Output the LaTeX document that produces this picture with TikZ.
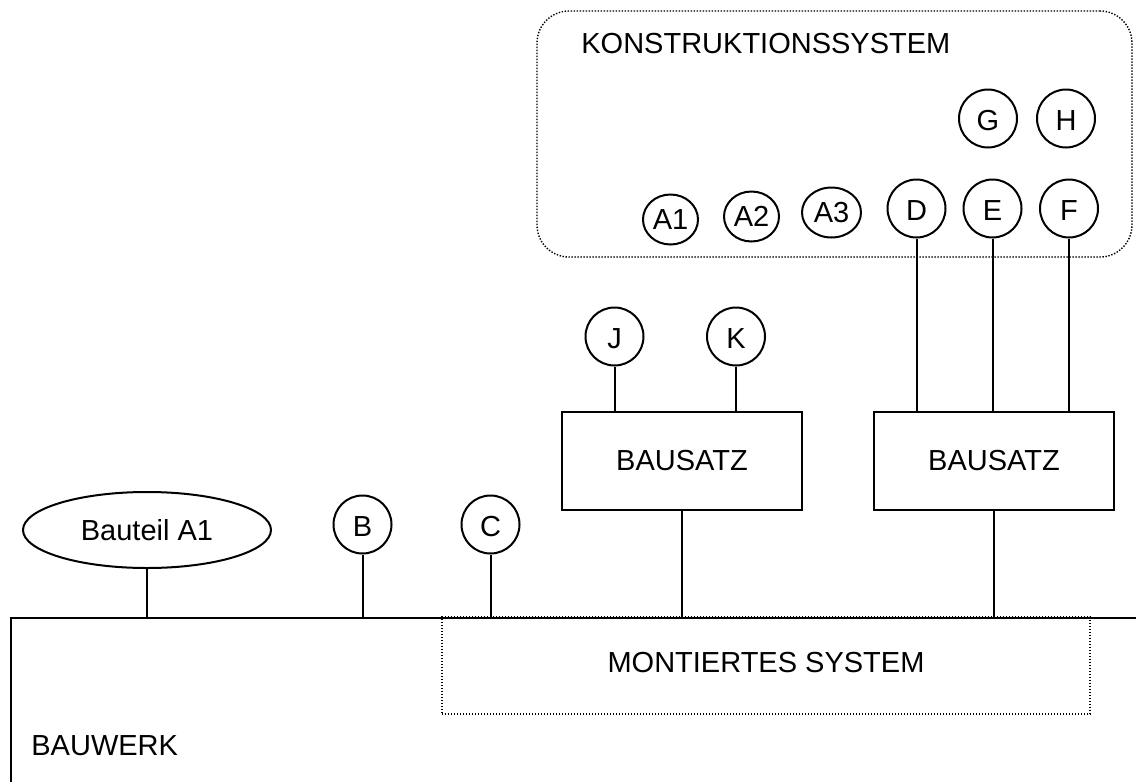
\documentclass[tikz,border=0pt]{standalone}
\usepackage{fontspec}
\setmainfont{Liberation Sans}
\usetikzlibrary{shapes.geometric}
\begin{document}
\begin{tikzpicture}[x=0.5pt,y=-0.5pt,
  every node/.style={font=\fontsize{14.5}{17}\selectfont},
  conn/.style={line width=1pt},
  ring/.style={draw,ellipse,line width=1pt,inner sep=0pt,minimum width=29pt,minimum height=29pt,text height=12.2pt,text depth=0pt},
  aring/.style={draw,ellipse,line width=1pt,inner sep=0pt,minimum width=27.5pt,minimum height=25pt},
  kitbox/.style={draw,rectangle,line width=0.8pt,minimum width=120pt,minimum height=49pt,inner sep=0pt},
  dotbox/.style={draw,rectangle,line width=0.7pt,dash pattern=on 0.7pt off 0.8pt,inner sep=0pt},
  label/.style={inner sep=0pt}]
\useasboundingbox (0,0) rectangle (1136,782);
\clip (0,0) rectangle (1136,782);
% Konstruktionssystem
\node[dotbox,rounded corners=16pt,minimum width=297.5pt,minimum height=123pt] (ks) at (834.5,134) {};
\node[label,anchor=west] (kst) at (581,43.5) {KONSTRUKTIONSSYSTEM};
\node[aring] (a1) at (670.5,219.5) {A1};
\node[aring] (a2) at (751.5,216.5) {A2};
\node[aring,minimum width=29.5pt] (a3) at (831.5,212.5) {A3};
\node[ring] (d) at (916.5,208.5) {D};
\node[ring] (e) at (992.5,208.5) {E};
\node[ring] (f) at (1069,208.5) {F};
\node[ring] (g) at (988,118.5) {G};
\node[ring] (h) at (1066,118.5) {H};
% Bausatz boxes
\node[kitbox] (bs1) at (682,461) {BAUSATZ};
\node[kitbox] (bs2) at (994,461) {BAUSATZ};
\node[ring] (j) at (614.5,336.5) {J};
\node[ring] (k) at (736,336.5) {K};
% lower level
\node[draw,ellipse,line width=1pt,minimum width=124pt,minimum height=38pt,inner sep=0pt] (bt) at (147,530) {Bauteil A1};
\node[ring] (b) at (362.5,524.5) {B};
\node[ring] (c) at (490.5,524.5) {C};
% Montiertes System
\node[dotbox,minimum width=324pt,minimum height=48.5pt] (ms) at (766,665.5) {};
\node[label] (mst) at (766,663) {MONTIERTES SYSTEM};
% Bauwerk
\node[draw,rectangle,line width=1pt,anchor=north west,minimum width=650pt,minimum height=200pt] (bw) at (10,617) {};
\node[label,anchor=west] (bwt) at (31,746) {BAUWERK};
% connectors
\draw[conn] (d.south) -- (d.south |- bs2.north);
\draw[conn] (e.south) -- (e.south |- bs2.north);
\draw[conn] (f.south) -- (f.south |- bs2.north);
\draw[conn] (j.south) -- (j.south |- bs1.north);
\draw[conn] (k.south) -- (k.south |- bs1.north);
\draw[conn] (bs1.south) -- (bs1.south |- bw.north);
\draw[conn] (bs2.south) -- (bs2.south |- bw.north);
\draw[conn] (bt.south) -- (bt.south |- bw.north);
\draw[conn] (b.south) -- (b.south |- bw.north);
\draw[conn] (c.south) -- (c.south |- bw.north);
\end{tikzpicture}
\end{document}
